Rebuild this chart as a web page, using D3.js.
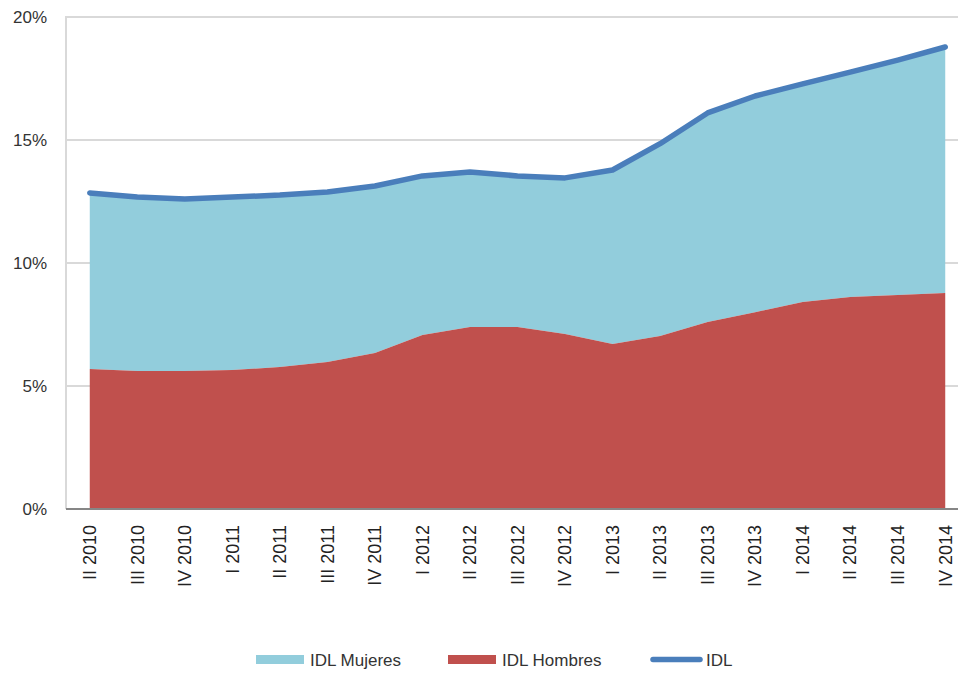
<!DOCTYPE html>
<html><head><meta charset="utf-8">
<script src="https://cdn.jsdelivr.net/npm/d3@7"></script>
<style>body{margin:0;background:#fff}svg{display:block}</style>
</head><body>
<svg id="c" width="958" height="675"></svg>
<script>
const categories = ["II 2010","III 2010","IV 2010","I 2011","II 2011","III 2011","IV 2011","I 2012","II 2012","III 2012","IV 2012","I 2013","II 2013","III 2013","IV 2013","I 2014","II 2014","III 2014","IV 2014"];
const hombres = [5.69,5.61,5.61,5.65,5.77,5.98,6.34,7.07,7.40,7.40,7.11,6.71,7.03,7.60,8.00,8.41,8.62,8.70,8.78];
const mujeres = [7.16,7.07,6.99,7.03,6.99,6.91,6.79,6.47,6.30,6.14,6.35,7.07,7.77,8.46,8.79,8.87,9.14,9.51,10.00];
const idl = [12.85,12.68,12.60,12.68,12.76,12.89,13.13,13.54,13.70,13.54,13.46,13.78,14.85,16.10,16.79,17.28,17.76,18.25,18.78];
const yTicks = [0,5,10,15,20];
const legendLabels = ["IDL Mujeres","IDL Hombres","IDL"];

const svg = d3.select("#c");
const font = "'Liberation Sans', Arial, sans-serif";
const x = d3.scalePoint().domain(categories).range([66, 969]).padding(0.5);
const y = d3.scaleLinear().domain([0, 20]).range([509, 17]);

// gridlines
svg.append("g").selectAll("line").data(yTicks.filter(d=>d>0)).join("line")
  .attr("x1", 66).attr("x2", 958).attr("y1", d=>y(d)).attr("y2", d=>y(d))
  .attr("stroke", "#d9d9d9").attr("stroke-width", 2);
// left axis line
svg.append("line").attr("x1",66).attr("x2",66).attr("y1",y(20)-1).attr("y2",y(0))
  .attr("stroke","#d9d9d9").attr("stroke-width",2);

const data = categories.map((c,i)=>({c, h:hombres[i], m:mujeres[i], t:idl[i]}));

// areas
svg.append("path").datum(data)
  .attr("d", d3.area().x(d=>x(d.c)).y0(d=>y(d.h)).y1(d=>y(d.h+d.m)))
  .attr("fill","#92cddc");
svg.append("path").datum(data)
  .attr("d", d3.area().x(d=>x(d.c)).y0(y(0)).y1(d=>y(d.h)))
  .attr("fill","#c0504d");

// bottom axis
svg.append("line").attr("x1",66).attr("x2",958).attr("y1",y(0)).attr("y2",y(0))
  .attr("stroke","#868686").attr("stroke-width",2);

// IDL line
svg.append("path").datum(data)
  .attr("d", d3.line().x(d=>x(d.c)).y(d=>y(d.t)))
  .attr("fill","none").attr("stroke","#4a7ebb").attr("stroke-width",5.5)
  .attr("stroke-linecap","round").attr("stroke-linejoin","round");

// y labels
svg.append("g").selectAll("text").data(yTicks).join("text")
  .attr("x", 47).attr("y", d=>y(d)).attr("dy","0.35em")
  .attr("text-anchor","end").attr("font-family",font).attr("font-size",17)
  .attr("fill","#333").text(d=>d+"%");

// x labels
svg.append("g").selectAll("text").data(categories).join("text")
  .attr("transform", d=>`translate(${x(d)},525) rotate(-90)`)
  .attr("dy","0.35em").attr("text-anchor","end")
  .attr("font-family",font).attr("font-size",18).attr("fill","#222").text(d=>d);

// legend
const lg = svg.append("g").attr("font-family",font).attr("font-size",17).attr("fill","#333");
lg.append("rect").attr("x",256).attr("y",655).attr("width",48).attr("height",9).attr("fill","#92cddc");
lg.append("text").attr("x",310).attr("y",660).attr("dy","0.35em").text(legendLabels[0]);
lg.append("rect").attr("x",448).attr("y",655).attr("width",48).attr("height",9).attr("fill","#c0504d");
lg.append("text").attr("x",502).attr("y",660).attr("dy","0.35em").text(legendLabels[1]);
lg.append("line").attr("x1",653).attr("x2",700).attr("y1",659.5).attr("y2",659.5)
  .attr("stroke","#4a7ebb").attr("stroke-width",5.5).attr("stroke-linecap","round");
lg.append("text").attr("x",706).attr("y",660).attr("dy","0.35em").text(legendLabels[2]);
</script>
</body></html>
